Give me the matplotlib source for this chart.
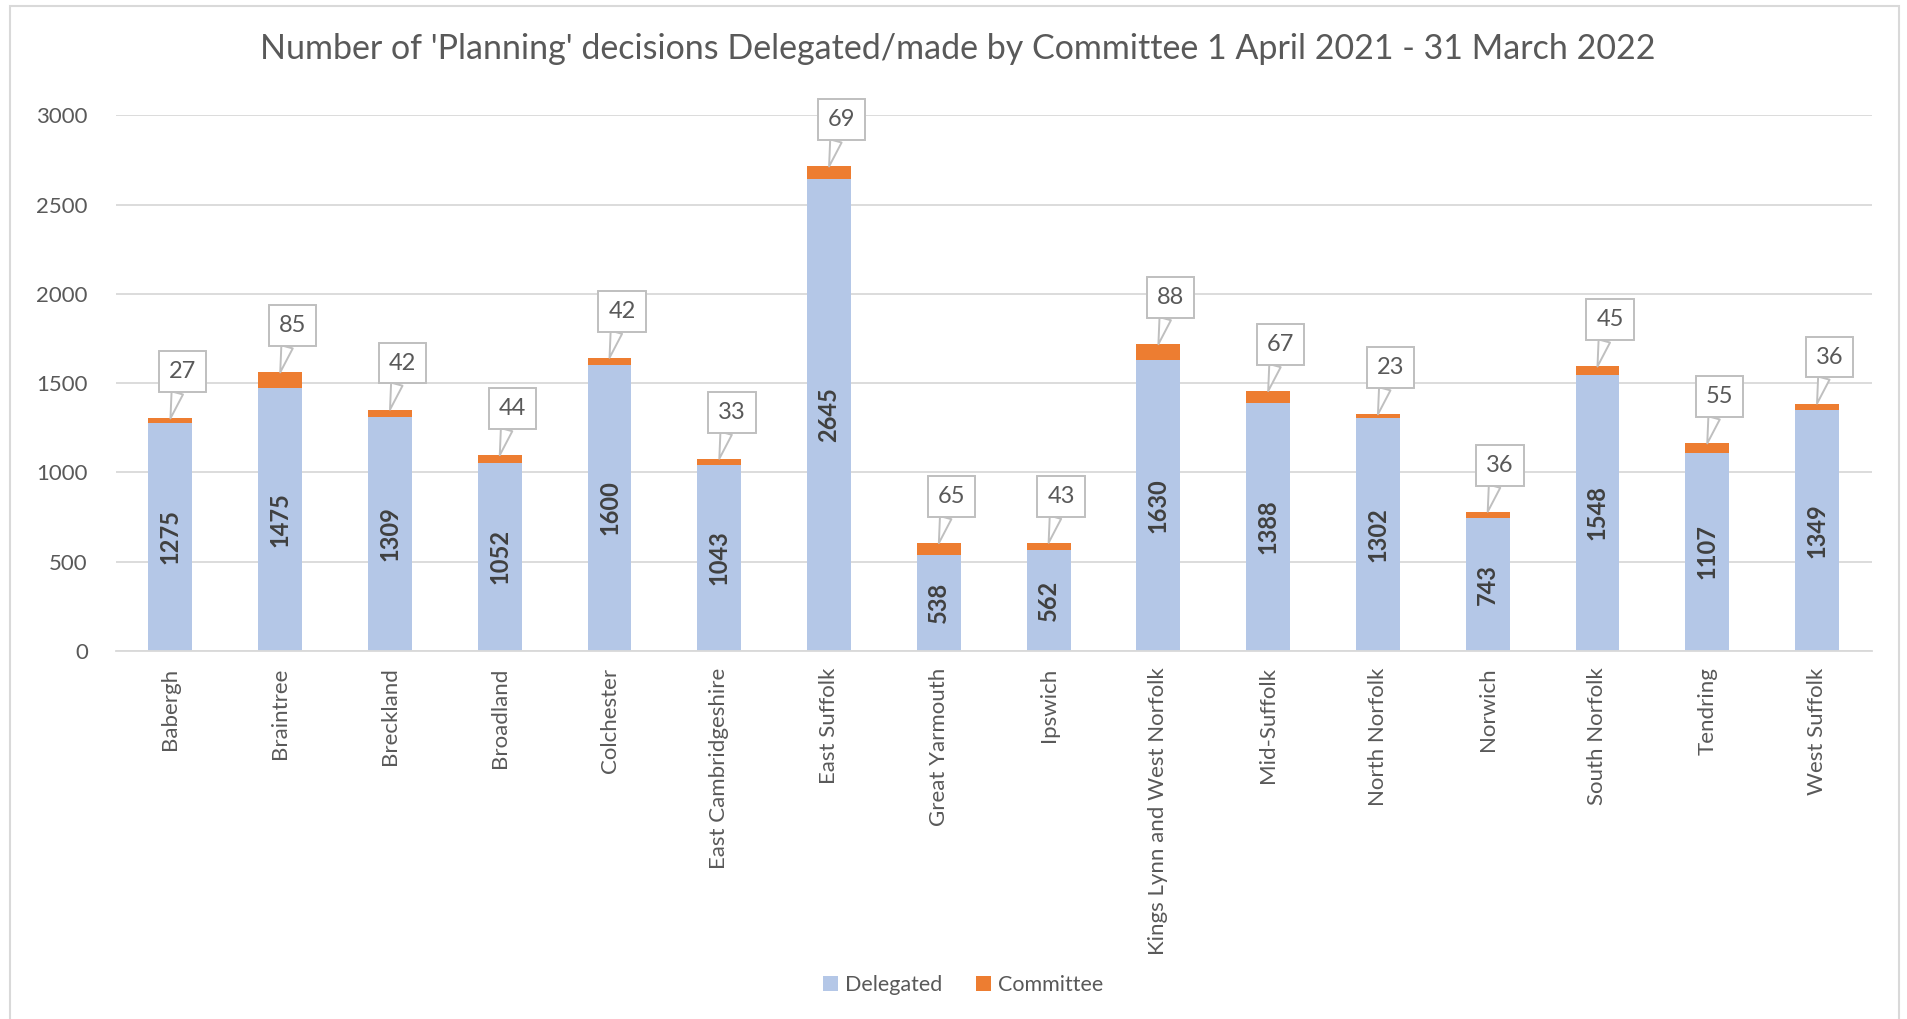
import numpy as np
import matplotlib.pyplot as plt
from matplotlib.patches import Rectangle
plt.switch_backend('agg')

plt.rcParams['font.family'] = ['Lato', 'DejaVu Sans']

councils = ['Babergh', 'Braintree', 'Breckland', 'Broadland', 'Colchester',
            'East Cambridgeshire', 'East Suffolk', 'Great Yarmouth', 'Ipswich',
            'Kings Lynn and West Norfolk', 'Mid-Suffolk', 'North Norfolk',
            'Norwich', 'South Norfolk', 'Tendring', 'West Suffolk']
delegated = [1275, 1475, 1309, 1052, 1600, 1043, 2645, 538, 562, 1630,
             1388, 1302, 743, 1548, 1107, 1349]
committee = [27, 85, 42, 44, 42, 33, 69, 65, 43, 88, 67, 23, 36, 45, 55, 36]

blue = '#b4c7e7'
orange = '#ed7d31'
txt = '#595959'
grid = '#d9d9d9'

fig = plt.figure(figsize=[19.07, 10.19], dpi=100)
ax = fig.add_axes([0.0606, 0.3614, 0.9210, 0.5253])

x = np.arange(len(councils))
b1 = ax.bar(x, delegated, width=0.4, color=blue, label='Delegated', zorder=2)
b2 = ax.bar(x, committee, width=0.4, bottom=delegated, color=orange,
            label='Committee', zorder=2)

# values inside the blue bars
for xi, d in zip(x, delegated):
    ax.text(xi, d / 2, str(d), rotation=90, ha='center', va='center',
            fontsize=17, fontweight='bold', color='#404040', zorder=3)

# callouts for the committee numbers
for xi, d, c in zip(x, delegated, committee):
    ax.annotate(str(c), xy=(xi, d + c), xytext=(9, 26),
                textcoords='offset points', ha='center', va='bottom',
                fontsize=17, color=txt, zorder=4,
                bbox=dict(boxstyle='square,pad=0.42', fc='white', ec='#bfbfbf', lw=1.4),
                arrowprops=dict(arrowstyle='wedge,tail_width=0.5,shrink_factor=0.5',
                                fc='white', ec='#bfbfbf', lw=1.4, shrinkA=0, shrinkB=0))

ax.set_xlim(-0.5, len(councils) - 0.5)
ax.set_ylim(0, 3000)
ax.set_yticks(np.arange(0, 3001, 500))
ax.yaxis.grid(True, color=grid, lw=1.3, zorder=0)
ax.set_axisbelow(True)
for s in ['top', 'right', 'left']:
    ax.spines[s].set_visible(False)
ax.spines['bottom'].set_color(grid)
ax.spines['bottom'].set_linewidth(1.3)
ax.tick_params(axis='both', length=0, colors=txt, labelsize=16)
ax.tick_params(axis='y', pad=20)
ax.tick_params(axis='x', pad=12)
ax.set_xticks(x)
ax.set_xticklabels(councils, rotation=90, va='top', ha='center')

fig.text(0.502, 0.952, "Number of 'Planning' decisions Delegated/made by Committee 1 April 2021 - 31 March 2022",
         ha='center', va='center', fontsize=24.5, color=txt)

fig.legend(handles=[b1, b2], loc='center', bbox_to_anchor=(0.505, 0.033), ncol=2,
           frameon=False, fontsize=15.5, labelcolor=txt, handlelength=0.7,
           handleheight=0.7, handletextpad=0.3, columnspacing=1.6)

fig.patches.append(Rectangle((0.005, -0.01), 0.991, 1.004, transform=fig.transFigure,
                             fill=False, ec=grid, lw=1.5))

plt.savefig('out.png', dpi=100)
plt.close('all')
